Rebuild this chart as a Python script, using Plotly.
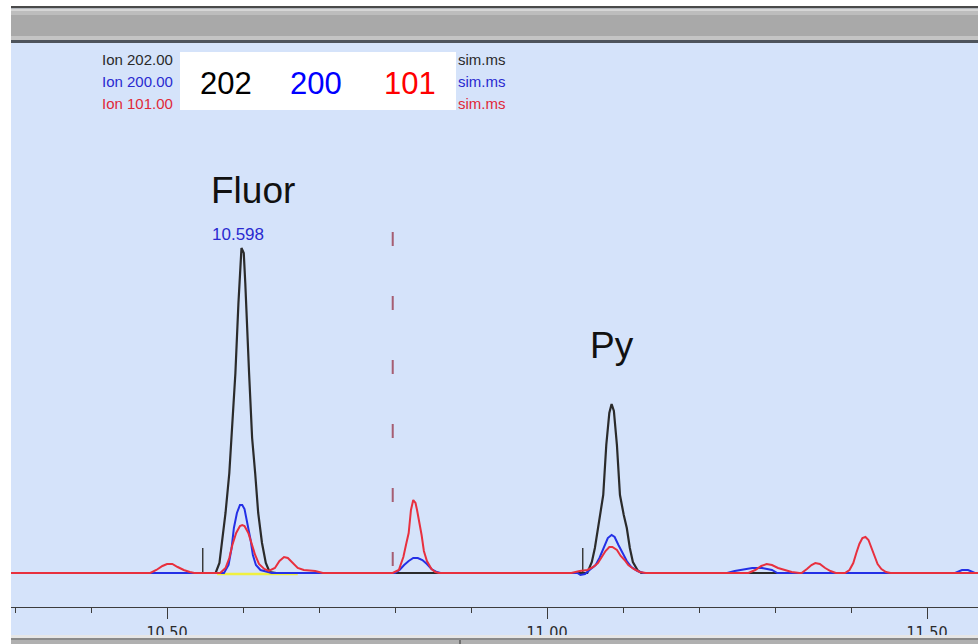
import plotly.graph_objects as go

# ---------------- data (retention time in min, abundance in arbitrary units) ----------------
RT_202 = [10.290, 10.564, 10.569, 10.572, 10.577, 10.582, 10.586, 10.590, 10.594, 10.597,
          10.598, 10.601, 10.603, 10.608, 10.612, 10.616, 10.620, 10.625, 10.630, 10.635,
          10.644, 11.053, 11.059, 11.063, 11.067, 11.074, 11.078, 11.082, 11.085, 11.088,
          11.092, 11.096, 11.101, 11.105, 11.109, 11.113, 11.119, 11.124, 11.570]
AB_202 = [0, 0, 10, 30, 60, 100, 150, 200, 270, 315,
          325, 320, 290, 200, 135, 100, 60, 30, 10, 1,
          0, 0, 11, 25, 45, 78, 128, 160, 169, 162,
          128, 78, 58, 45, 25, 11, 3, 0, 0]

RT_200 = [10.290, 10.575, 10.581, 10.585, 10.588, 10.592, 10.596, 10.599, 10.602, 10.606,
          10.610, 10.613, 10.617, 10.623, 10.631, 10.638, 10.800, 10.806, 10.812, 10.818,
          10.824, 10.830, 10.836, 10.842, 10.848, 10.855, 10.860, 11.040, 11.044, 11.050,
          11.056, 11.064, 11.069, 11.074, 11.080, 11.085, 11.089, 11.094, 11.099, 11.105,
          11.111, 11.119, 11.127, 11.237, 11.247, 11.261, 11.270, 11.283, 11.291, 11.296,
          11.303, 11.537, 11.546, 11.554, 11.563, 11.570]
AB_200 = [0, 0, 8, 25, 45, 60, 68, 68, 64, 50,
          33, 18, 8, 3, 1, 0, 0, 3, 8, 12,
          15, 15, 13, 9, 4, 1, 0, 0, -2, -1,
          3, 8, 15, 25, 35, 38, 36, 28, 20, 12,
          6, 2, 0, 0, 2, 4, 5, 5, 4, 3,
          0, 0, 3, 3, 0, 0]

RT_101 = [10.290, 10.478, 10.486, 10.494, 10.500, 10.507, 10.514, 10.522, 10.530, 10.536,
          10.570, 10.577, 10.582, 10.586, 10.591, 10.596, 10.599, 10.602, 10.607, 10.612,
          10.616, 10.621, 10.628, 10.634, 10.642, 10.648, 10.654, 10.659, 10.665, 10.672,
          10.680, 10.695, 10.705, 10.797, 10.805, 10.811, 10.815, 10.818, 10.821, 10.824,
          10.827, 10.829, 10.835, 10.838, 10.842, 10.848, 10.853, 10.858, 11.032, 11.043,
          11.053, 11.061, 11.067, 11.072, 11.077, 11.082, 11.086, 11.092, 11.097, 11.102,
          11.107, 11.114, 11.122, 11.130, 11.265, 11.274, 11.282, 11.289, 11.296, 11.304,
          11.313, 11.322, 11.332, 11.335, 11.342, 11.348, 11.353, 11.359, 11.366, 11.373,
          11.380, 11.392, 11.398, 11.403, 11.407, 11.411, 11.415, 11.419, 11.423, 11.427,
          11.431, 11.435, 11.440, 11.446, 11.452, 11.570]
AB_101 = [0, 0, 3, 7, 9, 9, 6, 3, 1, 0,
          0, 5, 15, 28, 40, 47, 48, 47, 40, 28,
          18, 9, 4, 2, 5, 12, 16, 15, 10, 5,
          3, 2, 0, 0, 3, 16, 30, 40, 63, 73,
          70, 63, 38, 22, 12, 4, 1, 0, 0, 2,
          3, 6, 10, 16, 22, 26, 26, 23, 17, 13,
          8, 4, 1, 0, 0, 3, 7, 9, 8, 5,
          3, 1, 0, 0, 4, 8, 10, 9, 5, 2,
          0, 0, 3, 10, 20, 29, 35, 36, 33, 25,
          16, 9, 4, 1, 0, 0]

INTEG_RT = [10.566, 10.672]          # yellow integration baseline
INTEG_AB = [-1, -1]
MARKER_RT = [10.547, 11.047]          # peak-start tick marks
MARKER_H = 25
DASH_RT = 10.797                      # dashed marker line
DASH_TOP, DASH_BOTTOM = 341, 7

FLUOR_RT, FLUOR_H = 10.598, 325
PY_RT, PY_H = 11.085, 169

TICK_VALS = [10.50, 11.00, 11.50]
TICK_TEXT = ["10.50", "11.00", "11.50"]
MINOR_TICKS = [10.3, 10.4, 10.6, 10.7, 10.8, 10.9, 11.1, 11.2, 11.3, 11.4]

ION_LABELS = ["Ion 202.00", "Ion 200.00", "Ion 101.00"]
ION_TAIL = ["sim.ms", "sim.ms", "sim.ms"]
BIG_LABELS = ["202", "200", "101"]

# ---------------- styles ----------------
W, H = 978, 644
BG = "rgb(213,227,250)"
C_BLACK = "#2b2b2b"
C_BLUE = "#2430e6"
C_RED = "#e8303e"
ROW_COLORS = ["#2a2a2a", "#2a2ad0", "#e02838"]
BIG_COLORS = ["#000000", "#0000ff", "#ff0000"]
FONT = "Liberation Sans, Arial, sans-serif"
NARROW = "Liberation Sans Narrow, DejaVu Sans Condensed, Arial Narrow, sans-serif"


def px(x):
    return x / W


def py(y):
    return (H - y) / H


fig = go.Figure()

fig.add_trace(go.Scatter(x=INTEG_RT, y=INTEG_AB, mode="lines",
                         line=dict(color="#f0f040", width=2.5), hoverinfo="skip"))

mx, my = [], []
for t in MARKER_RT:
    mx += [t, t, None]
    my += [0, MARKER_H, None]
fig.add_trace(go.Scatter(x=mx, y=my, mode="lines",
                         line=dict(color="#3a3a3a", width=1.5), hoverinfo="skip"))

fig.add_trace(go.Scatter(x=[DASH_RT, DASH_RT], y=[DASH_TOP, DASH_BOTTOM], mode="lines",
                         line=dict(color="#a65e72", width=2, dash="14px,50px"), hoverinfo="skip"))

fig.add_trace(go.Scatter(x=RT_202, y=AB_202, mode="lines", name="Ion 202.00",
                         line=dict(color=C_BLACK, width=2.2)))
fig.add_trace(go.Scatter(x=RT_200, y=AB_200, mode="lines", name="Ion 200.00",
                         line=dict(color=C_BLUE, width=2)))
fig.add_trace(go.Scatter(x=RT_101, y=AB_101, mode="lines", name="Ion 101.00",
                         line=dict(color=C_RED, width=2)))

annotations = []
row_y = [60, 82, 104]
for i in range(3):
    annotations.append(dict(x=px(100), y=py(row_y[i]), xref="paper", yref="paper",
                            text=ION_LABELS[i], showarrow=False, xanchor="left", yanchor="middle",
                            font=dict(family=FONT, size=15, color=ROW_COLORS[i])))
    annotations.append(dict(x=px(456), y=py(row_y[i]), xref="paper", yref="paper",
                            text=ION_TAIL[i], showarrow=False, xanchor="left", yanchor="middle",
                            font=dict(family=FONT, size=15, color=ROW_COLORS[i])))
big_x = [226, 316, 410]
for i in range(3):
    annotations.append(dict(x=px(big_x[i]), y=py(83), xref="paper", yref="paper",
                            text=BIG_LABELS[i], showarrow=False, xanchor="center", yanchor="middle",
                            font=dict(family=FONT, size=31, color=BIG_COLORS[i])))

# peak labels
annotations.append(dict(x=FLUOR_RT, y=FLUOR_H, xref="x", yref="y", text=f"{FLUOR_RT:.3f}",
                        showarrow=False, yanchor="bottom", xshift=-3, yshift=2,
                        font=dict(family=FONT, size=17, color="#2a2ad0")))
annotations.append(dict(x=FLUOR_RT, y=FLUOR_H, xref="x", yref="y", text="Fluor",
                        showarrow=False, yanchor="middle", xshift=12, yshift=58,
                        font=dict(family=FONT, size=37, color="#111111")))
annotations.append(dict(x=PY_RT, y=PY_H, xref="x", yref="y", text="Py",
                        showarrow=False, yanchor="middle", xshift=0, yshift=59,
                        font=dict(family=FONT, size=37, color="#111111")))

shapes = []


def rect(x0, y0, x1, y1, color):
    shapes.append(dict(type="rect", xref="paper", yref="paper", x0=px(x0), x1=px(x1),
                       y0=py(y1), y1=py(y0), fillcolor=color, line=dict(width=0), layer="above"))


# white box over the file names
rect(180, 52, 456, 110, "#ffffff")
# window chrome
rect(0, 0, W, 6, "#ffffff")
rect(11, 6, W, 8.5, "#4a4a4a")
rect(11, 8.5, W, 11, "#d6d6d6")
rect(11, 11, W, 15, "#bdbdbd")
rect(11, 15, W, 36, "#a9a9a9")
rect(11, 36, W, 40, "#c4c4c4")
rect(11, 40, W, 43, "#4e545c")
rect(11, 635, W, 638, "#e6e6e6")
rect(11, 638, W, 640, "#8a8a8a")
rect(11, 640, W, H, "#b0b0b0")
rect(459, 640, 461, H, "#707070")
rect(0, 0, 11, H, "#ffffff")

fig.update_layout(
    width=W, height=H, margin=dict(l=0, r=0, t=0, b=0),
    paper_bgcolor=BG, plot_bgcolor=BG, showlegend=False,
    annotations=annotations, shapes=shapes,
    xaxis=dict(range=[10.5 - 167 / 760, 10.5 + (W - 167) / 760], domain=[0, 1],
               showgrid=False, zeroline=False, showline=True, linecolor="#3c3c3c", linewidth=1,
               ticks="outside", ticklen=11, tickwidth=1, tickcolor="#3c3c3c",
               tickmode="array", tickvals=TICK_VALS, ticktext=TICK_TEXT,
               tickfont=dict(family=NARROW, size=16, color="#2a2a2a"),
               minor=dict(tickmode="array", tickvals=MINOR_TICKS, ticks="outside",
                          ticklen=5, tickwidth=1, tickcolor="#3c3c3c"),
               fixedrange=True),
    yaxis=dict(range=[-34, 529], domain=[(H - 607) / H, (H - 44) / H], visible=False,
               showgrid=False, zeroline=False, fixedrange=True),
)

fig.write_html("out.html", config={"displayModeBar": False},
               post_script="document.body.style.margin='0';document.body.style.padding='0';")
